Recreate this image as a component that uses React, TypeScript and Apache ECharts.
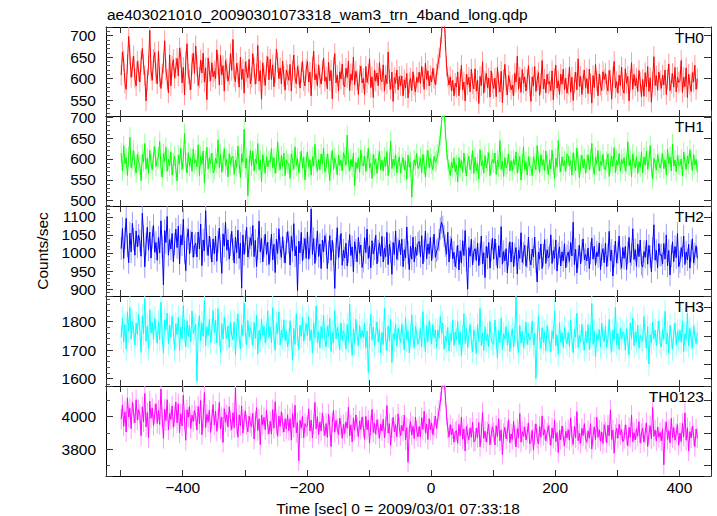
import React, { useEffect, useRef } from "react";
import * as echarts from "echarts";

const chartTitle = "ae403021010_20090301073318_wam3_trn_4band_long.qdp";
const xAxisName = "Time [sec] 0 = 2009/03/01 07:33:18";
const yAxisName = "Counts/sec";
const bandNames = ["TH0", "TH1", "TH2", "TH3", "TH0123"];
const timeStart = -499; // centre of first bin (s)
const binSize = 2; // s
const xRange = [-523.5, 451];

const th0 = [
  608, 662, 641, 589, 575, 634, 698, 655, 603, 627, 652, 601, 583, 640, 618,
  592, 640, 670, 632, 607, 548, 596, 631, 712, 618, 596, 645, 661, 612, 588,
  663, 604, 577, 611, 636, 688, 620, 598, 567, 655, 583, 629, 644, 601, 625,
  647, 606, 671, 649, 590, 626, 562, 640, 681, 611, 597, 574, 633, 659, 612,
  676, 630, 584, 603, 643, 613, 659, 592, 625, 551, 648, 616, 595, 637, 604,
  617, 600, 667, 633, 585, 654, 609, 630, 571, 642, 623, 594, 609, 658, 619,
  691, 604, 593, 636, 614, 580, 650, 598, 622, 566, 639, 617, 602, 645, 588,
  603, 658, 626, 587, 611, 677, 594, 619, 552, 637, 608, 584, 629, 651, 597,
  645, 598, 632, 581, 614, 669, 637, 600, 625, 588, 641, 605, 573, 620, 609,
  596, 633, 571, 619, 655, 602, 588, 629, 609, 578, 614, 640, 595, 583, 622,
  640, 592, 615, 560, 627, 664, 597, 611, 583, 632, 602, 587, 619, 648, 594,
  604, 576, 638, 595, 619, 553, 627, 658, 590, 608, 571, 616, 599, 634, 586,
  581, 624, 603, 641, 572, 611, 596, 650, 585, 617, 598, 563, 607, 629, 590,
  600, 563, 628, 591, 610, 646, 579, 604, 556, 620, 594, 613, 583, 637, 598,
  593, 632, 571, 608, 588, 662, 598, 575, 615, 547, 602, 589, 620, 574, 605,
  584, 606, 560, 597, 578, 612, 555, 590, 601, 572, 616, 585, 569, 603, 591,
  615, 589, 628, 604, 575, 636, 598, 618, 583, 607, 592, 624, 601, 586, 611,
  632, 648, 672, 705, 752, 746, 690, 628, 605, 585, 604, 571, 596, 560, 589,
  580, 615, 560, 597, 631, 574, 592, 548, 610, 586, 603, 569, 622, 588, 576,
  623, 571, 596, 542, 605, 584, 639, 566, 593, 612, 579, 601, 557, 618, 590,
  577, 601, 558, 626, 590, 569, 617, 544, 598, 633, 585, 562, 607, 592, 574,
  585, 560, 612, 592, 652, 575, 603, 568, 621, 589, 604, 571, 598, 630, 583,
  547, 604, 583, 628, 570, 596, 614, 561, 589, 642, 576, 599, 567, 610, 588,
  593, 572, 618, 551, 600, 631, 578, 595, 563, 610, 587, 622, 574, 601, 566,
  587, 627, 568, 603, 549, 591, 615, 574, 646, 582, 605, 563, 597, 620, 579,
  600, 565, 622, 588, 543, 607, 579, 633, 594, 560, 611, 585, 572, 616, 598,
  612, 586, 571, 619, 597, 552, 604, 640, 578, 593, 566, 608, 584, 627, 575,
  566, 623, 589, 605, 548, 596, 637, 575, 610, 583, 601, 570, 619, 592, 558,
  598, 559, 614, 581, 628, 570, 602, 545, 592, 651, 584, 607, 573, 615, 596,
  577, 608, 585, 620, 563, 599, 634, 572, 589, 612, 580, 626, 569, 603, 591,
  594, 642, 568, 603, 581, 625, 556, 610, 587, 570, 614, 592, 631, 575, 600,
];

const th1 = [
  614, 571, 632, 588, 603, 560, 605, 652, 579, 597, 620, 584, 566, 611, 593,
  585, 548, 611, 593, 637, 576, 602, 565, 621, 590, 574, 608, 629, 582, 599,
  604, 642, 581, 556, 613, 594, 628, 570, 599, 583, 617, 561, 590, 607, 575,
  547, 609, 588, 626, 575, 600, 661, 592, 566, 615, 583, 602, 570, 624, 589,
  598, 581, 634, 560, 607, 587, 619, 542, 595, 628, 576, 603, 588, 614, 567,
  573, 602, 589, 646, 579, 611, 568, 594, 625, 584, 599, 557, 613, 586, 604,
  606, 563, 597, 580, 631, 589, 555, 612, 592, 671, 578, 601, 512, 584, 620,
  583, 619, 571, 600, 588, 637, 574, 598, 546, 610, 592, 565, 606, 581, 596,
  592, 625, 579, 603, 566, 587, 641, 595, 574, 608, 582, 614, 560, 598, 589,
  588, 553, 612, 596, 575, 629, 584, 601, 567, 593, 619, 578, 604, 550, 592,
  617, 580, 598, 561, 605, 583, 635, 590, 571, 599, 574, 612, 588, 626, 569,
  579, 612, 588, 548, 596, 620, 575, 603, 587, 562, 609, 584, 597, 571, 615,
  604, 585, 657, 593, 572, 599, 581, 614, 536, 592, 577, 603, 568, 621, 586,
  583, 607, 570, 594, 626, 578, 589, 553, 611, 586, 600, 565, 597, 618, 574,
  597, 571, 604, 582, 618, 560, 591, 643, 577, 599, 583, 610, 566, 592, 605,
  566, 588, 603, 574, 595, 551, 609, 580, 592, 508, 571, 598, 584, 613, 577,
  583, 602, 567, 611, 586, 556, 598, 620, 579, 601, 588, 574, 606, 592, 597,
  612, 630, 655, 688, 725, 716, 672, 621, 598, 574, 560, 592, 578, 603, 569,
  586, 545, 603, 579, 597, 568, 614, 582, 559, 591, 606, 574, 588, 620, 565,
  604, 571, 589, 552, 622, 584, 596, 566, 608, 578, 593, 615, 560, 587, 599,
  590, 614, 563, 597, 581, 644, 575, 595, 558, 603, 579, 588, 612, 571, 596,
  572, 599, 585, 617, 566, 591, 606, 549, 588, 629, 574, 593, 561, 605, 583,
  582, 560, 605, 590, 574, 632, 595, 567, 611, 584, 598, 572, 619, 586, 563,
  598, 576, 621, 587, 553, 602, 580, 644, 591, 569, 605, 583, 596, 570, 612,
  607, 583, 596, 561, 615, 589, 572, 626, 594, 555, 587, 609, 578, 600, 566,
  588, 610, 574, 599, 637, 581, 563, 604, 587, 620, 571, 595, 584, 611, 576,
  575, 594, 612, 558, 590, 606, 582, 627, 567, 596, 585, 613, 570, 599, 588,
  603, 571, 589, 641, 584, 598, 557, 612, 592, 578, 606, 565, 594, 580, 617,
  566, 604, 585, 619, 575, 595, 632, 580, 552, 601, 589, 573, 610, 591, 578,
  591, 613, 577, 598, 562, 624, 588, 605, 571, 636, 583, 597, 569, 608, 586,
  584, 600, 559, 616, 593, 575, 607, 588, 622, 597, 572, 610, 585, 599, 568,
];

const th2 = [
  1012, 1068, 985, 1041, 1096, 1020, 973, 1055, 1003, 1082, 1038, 994, 1061, 1017, 1049,
  1034, 991, 1110, 1047, 962, 1025, 1071, 1008, 1058, 986, 1043, 1076, 1002, 1029, 980,
  1043, 1000, 1089, 1018, 912, 1062, 1029, 1101, 994, 1037, 1011, 1054, 976, 1025, 1066,
  1015, 1074, 970, 1049, 1022, 1093, 1002, 951, 1040, 1066, 997, 1031, 1058, 988, 1020,
  1027, 989, 1058, 1011, 1080, 965, 1036, 1006, 1117, 1024, 993, 1047, 1014, 975, 1039,
  998, 1047, 977, 1031, 1069, 1004, 944, 1053, 1019, 1085, 1008, 1036, 983, 1022, 1060,
  1010, 972, 1044, 1001, 1063, 985, 1027, 903, 1050, 996, 1032, 1071, 989, 1015, 1042,
  1021, 1076, 990, 1035, 962, 1012, 1088, 1003, 1041, 975, 1018, 1052, 996, 1030, 968,
  1007, 1052, 981, 1024, 946, 1038, 999, 1067, 1013, 988, 1045, 1004, 972, 1027, 1059,
  1029, 967, 1046, 1005, 1081, 992, 1018, 896, 1033, 1000, 1057, 978, 1012, 1040, 985,
  1058, 983, 1015, 1122, 996, 1040, 971, 1009, 1061, 990, 1025, 957, 1036, 1003, 1048,
  1024, 957, 1003, 1048, 980, 1035, 998, 902, 1012, 1070, 987, 1019, 1054, 966, 1008,
  986, 1027, 964, 1004, 1051, 993, 1017, 948, 1031, 1008, 975, 1043, 999, 1022, 960,
  977, 1042, 1001, 1066, 985, 1020, 959, 1034, 997, 1011, 1049, 970, 1006, 1028, 991,
  1046, 975, 1013, 990, 1057, 968, 1024, 1003, 941, 1029, 996, 1061, 982, 1010, 1035,
  995, 1038, 962, 1009, 986, 1072, 1001, 954, 1019, 983, 1044, 975, 1016, 993, 1027,
  1032, 990, 1048, 970, 1007, 1061, 984, 1025, 998, 1043, 979, 1014, 1052, 988, 1006,
  1011, 1036, 1068, 1085, 1072, 1047, 1020, 996, 1057, 975, 1016, 1040, 984, 1002, 962,
  988, 1021, 953, 1006, 972, 1034, 993, 1062, 980, 900, 1015, 991, 1038, 967, 1004,
  1012, 979, 1027, 965, 998, 1047, 970, 1001, 932, 1018, 986, 1029, 958, 1008, 1041,
  983, 1039, 997, 958, 1020, 988, 1073, 969, 1004, 978, 1012, 945, 996, 1031, 975,
  1030, 961, 996, 1015, 942, 1008, 985, 1056, 974, 999, 1021, 963, 990, 1044, 981,
  967, 1011, 989, 1044, 976, 920, 1002, 983, 1025, 957, 994, 1037, 971, 1009, 986,
  993, 1050, 971, 1007, 985, 1036, 950, 998, 1017, 964, 1003, 978, 1026, 959, 992,
  1003, 977, 1029, 992, 1085, 968, 1010, 945, 989, 1022, 970, 1006, 1039, 981, 996,
  978, 1014, 957, 1000, 1041, 983, 1019, 966, 1003, 990, 1028, 954, 995, 1012, 973,
  1027, 962, 995, 1060, 979, 1008, 936, 991, 1033, 972, 1001, 1047, 984, 958, 1015,
  985, 1018, 954, 1001, 1043, 974, 996, 1067, 982, 1009, 963, 1025, 990, 1036, 969,
  961, 1004, 988, 1035, 969, 1021, 990, 948, 1013, 1078, 980, 1007, 959, 1026, 994,
  995, 970, 1026, 983, 1050, 964, 1007, 939, 992, 1031, 976, 1018, 987, 1054, 962,
  976, 1015, 990, 1047, 968, 1003, 981, 1024, 958, 1006, 1039, 972, 997, 1020, 985,
];

const th3 = [
  1745, 1812, 1728, 1790, 1703, 1835, 1766, 1849, 1739, 1801, 1772, 1718, 1795, 1756, 1826,
  1774, 1692, 1820, 1758, 1880, 1731, 1785, 1705, 1842, 1760, 1797, 1737, 1813, 1768, 1724,
  1798, 1737, 1868, 1752, 1689, 1806, 1771, 1830, 1722, 1787, 1745, 1819, 1763, 1700, 1792,
  1754, 1815, 1699, 1781, 1740, 1856, 1767, 1712, 1803, 1748, 1786, 1729, 1837, 1759, 1775,
  1790, 1590, 1777, 1821, 1733, 1796, 1749, 1874, 1715, 1782, 1751, 1808, 1726, 1769, 1840,
  1762, 1806, 1725, 1846, 1756, 1691, 1793, 1738, 1817, 1768, 1741, 1785, 1709, 1799, 1753,
  1736, 1799, 1684, 1772, 1827, 1743, 1705, 1788, 1751, 1866, 1760, 1719, 1804, 1747, 1778,
  1760, 1716, 1797, 1741, 1823, 1687, 1769, 1735, 1810, 1752, 1784, 1726, 1759, 1838, 1744,
  1781, 1726, 1849, 1747, 1699, 1795, 1758, 1834, 1718, 1770, 1742, 1806, 1733, 1765, 1712,
  1738, 1803, 1745, 1665, 1776, 1720, 1829, 1754, 1702, 1787, 1749, 1815, 1731, 1762, 1794,
  1750, 1817, 1733, 1771, 1689, 1796, 1742, 1855, 1727, 1764, 1708, 1783, 1745, 1822, 1737,
  1712, 1785, 1748, 1812, 1695, 1762, 1726, 1839, 1740, 1779, 1753, 1701, 1796, 1734, 1767,
  1755, 1704, 1790, 1731, 1861, 1746, 1682, 1774, 1723, 1808, 1750, 1716, 1787, 1741, 1769,
  1744, 1793, 1708, 1767, 1621, 1752, 1826, 1735, 1781, 1715, 1760, 1799, 1728, 1772, 1690,
  1762, 1720, 1847, 1741, 1698, 1785, 1733, 1809, 1656, 1758, 1736, 1791, 1714, 1777, 1749,
  1727, 1792, 1745, 1700, 1814, 1736, 1768, 1690, 1751, 1824, 1742, 1709, 1783, 1756, 1721,
  1739, 1776, 1712, 1835, 1748, 1694, 1786, 1729, 1803, 1757, 1722, 1790, 1744, 1771, 1707,
  1771, 1742, 1818, 1760, 1795, 1703, 1749, 1728, 1780, 1697, 1758, 1732, 1806, 1716, 1764,
  1736, 1801, 1719, 1765, 1680, 1748, 1827, 1723, 1776, 1708, 1752, 1790, 1730, 1694, 1771,
  1743, 1688, 1790, 1729, 1846, 1715, 1761, 1698, 1782, 1733, 1757, 1712, 1801, 1740, 1724,
  1720, 1806, 1741, 1672, 1769, 1726, 1813, 1701, 1757, 1739, 1784, 1717, 1763, 1695, 1748,
  1775, 1711, 1752, 1887, 1730, 1692, 1787, 1724, 1766, 1708, 1743, 1798, 1720, 1759, 1735,
  1748, 1802, 1717, 1760, 1600, 1735, 1821, 1743, 1706, 1779, 1727, 1764, 1698, 1786, 1741,
  1731, 1694, 1768, 1740, 1838, 1716, 1753, 1685, 1797, 1727, 1761, 1709, 1779, 1744, 1722,
  1762, 1713, 1806, 1734, 1691, 1773, 1745, 1829, 1709, 1751, 1728, 1790, 1737, 1700, 1767,
  1725, 1789, 1702, 1747, 1864, 1720, 1768, 1676, 1756, 1736, 1772, 1711, 1795, 1742, 1730,
  1784, 1710, 1743, 1808, 1728, 1696, 1771, 1735, 1850, 1719, 1758, 1702, 1776, 1739, 1764,
  1757, 1700, 1776, 1733, 1683, 1795, 1741, 1812, 1715, 1763, 1729, 1788, 1706, 1752, 1738,
  1730, 1818, 1747, 1707, 1782, 1651, 1754, 1726, 1799, 1740, 1770, 1715, 1761, 1803, 1725,
  1711, 1773, 1738, 1836, 1722, 1760, 1689, 1787, 1745, 1703, 1756, 1794, 1718, 1767, 1734,
  1769, 1728, 1802, 1695, 1758, 1737, 1830, 1714, 1776, 1742, 1707, 1785, 1750, 1723, 1761,
];

const th0123 = [
  3985, 4072, 3941, 4030, 3906, 4115, 3998, 4051, 3927, 4088, 4020, 3962, 4104, 3979, 4043,
  4012, 3883, 4060, 3968, 4142, 3937, 4025, 3871, 4096, 3990, 4053, 3946, 4017, 4079, 3958,
  4038, 3952, 4169, 3994, 3866, 4047, 3975, 4104, 3918, 4021, 3983, 4066, 3935, 4002, 4090,
  3962, 4079, 3901, 4018, 3943, 4131, 3979, 3855, 4042, 3996, 4063, 3928, 4009, 3970, 4037,
  4006, 3918, 4063, 3957, 4100, 3889, 3992, 4148, 3934, 4015, 3967, 4041, 3903, 3985, 4074,
  3948, 4034, 3910, 3986, 4087, 3925, 3997, 3842, 4049, 3966, 4012, 3937, 4061, 3974, 3921,
  4024, 3931, 4175, 3958, 3874, 4011, 3944, 4066, 3899, 3981, 4035, 3952, 3907, 4003, 3960,
  3939, 4021, 3862, 3970, 4055, 3915, 3987, 3828, 4008, 3951, 3996, 3919, 4040, 3948, 3893,
  3972, 3893, 4043, 3929, 4092, 3954, 3880, 4003, 3940, 4030, 3961, 3906, 3987, 3924, 4012,
  3915, 3988, 3856, 4019, 3934, 4070, 3901, 3962, 3730, 3977, 3929, 4004, 3871, 3958, 3936,
  3946, 4048, 3911, 3980, 3869, 3956, 4087, 3925, 3999, 3890, 3967, 3913, 4021, 3942, 3884,
  3958, 3873, 4015, 3938, 3816, 3965, 4039, 3904, 3977, 3928, 3889, 3991, 3946, 3867, 3952,
  3897, 3968, 3929, 4058, 3882, 3950, 3845, 3992, 3917, 4011, 3936, 3878, 3973, 3921, 3999,
  3935, 3861, 4002, 3920, 3978, 3837, 3948, 4044, 3903, 3959, 3892, 3981, 3925, 3868, 3954,
  3912, 3984, 3870, 3939, 4068, 3898, 3957, 3824, 3931, 3996, 3907, 3950, 3876, 4017, 3933,
  3884, 3947, 3912, 4010, 3858, 3933, 3720, 3922, 3969, 3887, 3941, 3865, 3998, 3914, 3876,
  3940, 3876, 3994, 3921, 4033, 3902, 3955, 3860, 3987, 3918, 3962, 3889, 3943, 4004, 3927,
  3990, 4040, 4090, 4160, 4240, 4225, 4130, 4010, 3930, 3874, 3951, 3888, 3926, 3843, 3907,
  3914, 3837, 3953, 3882, 3998, 3861, 3925, 3789, 3940, 3893, 3858, 3931, 3874, 3966, 3845,
  3851, 3930, 3872, 3964, 3816, 3898, 4026, 3867, 3911, 3844, 3906, 3953, 3828, 3889, 3937,
  3903, 3826, 3945, 3876, 3987, 3852, 3919, 3768, 3897, 3935, 3863, 3912, 3981, 3840, 3894,
  3860, 3972, 3888, 3814, 3926, 3871, 4019, 3843, 3908, 3880, 3937, 3856, 3901, 3960, 3833,
  3848, 3917, 3795, 3891, 3956, 3867, 3832, 3940, 3873, 4005, 3886, 3921, 3851, 3899, 3944,
  3889, 3824, 3931, 3866, 3978, 3847, 3902, 3780, 3915, 3858, 3943, 3877, 3821, 3910, 3869,
  3920, 3855, 3993, 3876, 3829, 3941, 3870, 4031, 3853, 3897, 3836, 3928, 3884, 3957, 3862,
  3842, 3913, 3868, 3957, 3801, 3884, 3936, 3859, 3997, 3873, 3920, 3849, 3906, 3835, 3951,
  3906, 3838, 3948, 3881, 4042, 3860, 3917, 3776, 3892, 3929, 3867, 3954, 3888, 3921, 3846,
  3865, 3950, 3889, 3821, 3934, 3873, 4009, 3846, 3902, 3857, 3926, 3880, 3969, 3839, 3895,
  3931, 3844, 3898, 3962, 3817, 3889, 3945, 3863, 4056, 3879, 3918, 3851, 3937, 3874, 3903,
  3852, 3925, 3705, 3908, 3968, 3860, 3914, 3838, 3989, 3871, 3933, 3856, 3897, 3951, 3825,
  3900, 3847, 3959, 3877, 4023, 3855, 3932, 3790, 3908, 3869, 3942, 3883, 3816, 3924, 3870,
];

const bandValues = [th0, th1, th2, th3, th0123];
const bandErrors = [24, 24, 31, 41, 62];
const yRanges = [
  [513, 720],
  [487, 703],
  [881, 1130],
  [1574, 1890],
  [3636, 4188],
];
const yLabelSteps = [50, 50, 50, 100, 200];

// styling
const lineColors = ["#ff0000", "#00ff00", "#0000ff", "#00ffff", "#ff00ff"];
const errColors = ["#ff9a9a", "#9aff9a", "#9a9aff", "#9affff", "#ff9aff"];
const gridTops = [27, 116, 206, 296, 386];
const gridHeights = [89, 90, 90, 90, 90];
const leftSplit = [4, 4, 4, 3, 3];
const leftMinor = [5, 5, 5, 5, 2];
const rightSplit = [4, 4, 4, 6, 6];
const FONT = "'Liberation Sans', Arial, Helvetica, sans-serif";
const FS = 15.5;

function fmtNum(v: number) {
  const r = Math.round(v);
  return r < 0 ? "\u2212" + Math.abs(r) : String(r);
}

export default function App() {
  const ref = useRef<HTMLDivElement>(null);

  useEffect(() => {
    if (!ref.current) return;
    const chart = echarts.init(ref.current, null, { renderer: "svg" });

    const grid: any[] = [];
    const xAxis: any[] = [];
    const yAxis: any[] = [];
    const series: any[] = [];
    const axisLine = { show: true, onZero: false, lineStyle: { color: "#000", width: 1 } };

    bandValues.forEach((vals, i) => {
      grid.push({ left: 106, right: 6, top: gridTops[i], height: gridHeights[i], containLabel: false });
      const isLast = i === bandValues.length - 1;
      xAxis.push({
        type: "value",
        gridIndex: i,
        position: "bottom",
        min: xRange[0],
        max: xRange[1],
        splitNumber: 10,
        axisLine,
        axisTick: { show: true, inside: true, length: 6, lineStyle: { color: "#333" } },
        axisLabel: {
          show: isLast,
          margin: 3,
          color: "#000",
          fontSize: FS,
          fontFamily: FONT,
          formatter: (v: number) => (Math.abs(Math.round(v) % 200) === 0 && Math.abs(v - Math.round(v)) < 1e-6 ? fmtNum(v) : ""),
        },
        splitLine: { show: false },
      });
      xAxis.push({
        type: "value",
        gridIndex: i,
        position: "top",
        min: xRange[0],
        max: xRange[1],
        splitNumber: 10,
        axisLine,
        axisTick: { show: true, inside: true, length: 6, lineStyle: { color: "#333" } },
        axisLabel: { show: false },
        splitLine: { show: false },
      });
      const step = yLabelSteps[i];
      yAxis.push({
        type: "value",
        gridIndex: i,
        position: "left",
        min: yRanges[i][0],
        max: yRanges[i][1],
        splitNumber: leftSplit[i],
        axisLine,
        axisTick: { show: true, inside: true, length: 7, lineStyle: { color: "#333" } },
        minorTick: { show: true, splitNumber: leftMinor[i], length: 4, lineStyle: { color: "#555" } },
        axisLabel: {
          show: true,
          margin: 10,
          color: "#000",
          fontSize: FS,
          fontFamily: FONT,
          formatter: (v: number) => (Math.round(v) % step === 0 && Math.abs(v - Math.round(v)) < 1e-6 ? fmtNum(v) : ""),
        },
        splitLine: { show: false },
        minorSplitLine: { show: false },
      });
      yAxis.push({
        type: "value",
        gridIndex: i,
        position: "right",
        min: yRanges[i][0],
        max: yRanges[i][1],
        splitNumber: rightSplit[i],
        axisLine,
        axisTick: { show: true, inside: true, length: 7, lineStyle: { color: "#333" } },
        axisLabel: { show: false },
        splitLine: { show: false },
      });

      const err = bandErrors[i];
      series.push({
        type: "custom",
        xAxisIndex: 2 * i,
        yAxisIndex: 2 * i,
        clip: true,
        z: 1,
        silent: true,
        encode: { x: 0, y: [1, 2] },
        data: vals.map((v, k) => [timeStart + k * binSize, v - err, v + err]),
        renderItem: (params: any, api: any) => {
          const t = api.value(0);
          const p1 = api.coord([t, api.value(1)]);
          const p2 = api.coord([t, api.value(2)]);
          return {
            type: "line",
            shape: { x1: p1[0], y1: p1[1], x2: p2[0], y2: p2[1] },
            style: { stroke: errColors[i], lineWidth: 1 },
          };
        },
      });
      series.push({
        type: "line",
        name: bandNames[i],
        xAxisIndex: 2 * i,
        yAxisIndex: 2 * i,
        showSymbol: false,
        symbol: "none",
        clip: true,
        z: 2,
        silent: true,
        lineStyle: { color: lineColors[i], width: 1 },
        data: vals.map((v, k) => [timeStart + k * binSize, v]),
      });
    });

    const graphic: any[] = [
      {
        type: "text",
        x: 107,
        y: 14,
        style: { text: chartTitle, fontSize: FS, fontFamily: FONT, fill: "#000", align: "left", verticalAlign: "middle" },
      },
      {
        type: "text",
        x: 42,
        y: 251,
        rotation: Math.PI / 2,
        style: { text: yAxisName, fontSize: FS, fontFamily: FONT, fill: "#000", align: "center", verticalAlign: "middle" },
      },
      {
        type: "text",
        x: 398,
        y: 508,
        style: { text: xAxisName, fontSize: FS, fontFamily: FONT, fill: "#000", align: "center", verticalAlign: "middle" },
      },
    ];
    bandNames.forEach((name, i) => {
      graphic.push({
        type: "text",
        x: 704,
        y: gridTops[i] + 10,
        z: 10,
        style: { text: name, fontSize: FS, fontFamily: FONT, fill: "#000", align: "right", verticalAlign: "middle" },
      });
    });

    chart.setOption({
      animation: false,
      backgroundColor: "#fff",
      grid,
      xAxis,
      yAxis,
      series,
      graphic,
    });

    return () => chart.dispose();
  }, []);

  return <div ref={ref} style={{ position: "absolute", left: 0, top: 0, width: 717, height: 516 }} />;
}
